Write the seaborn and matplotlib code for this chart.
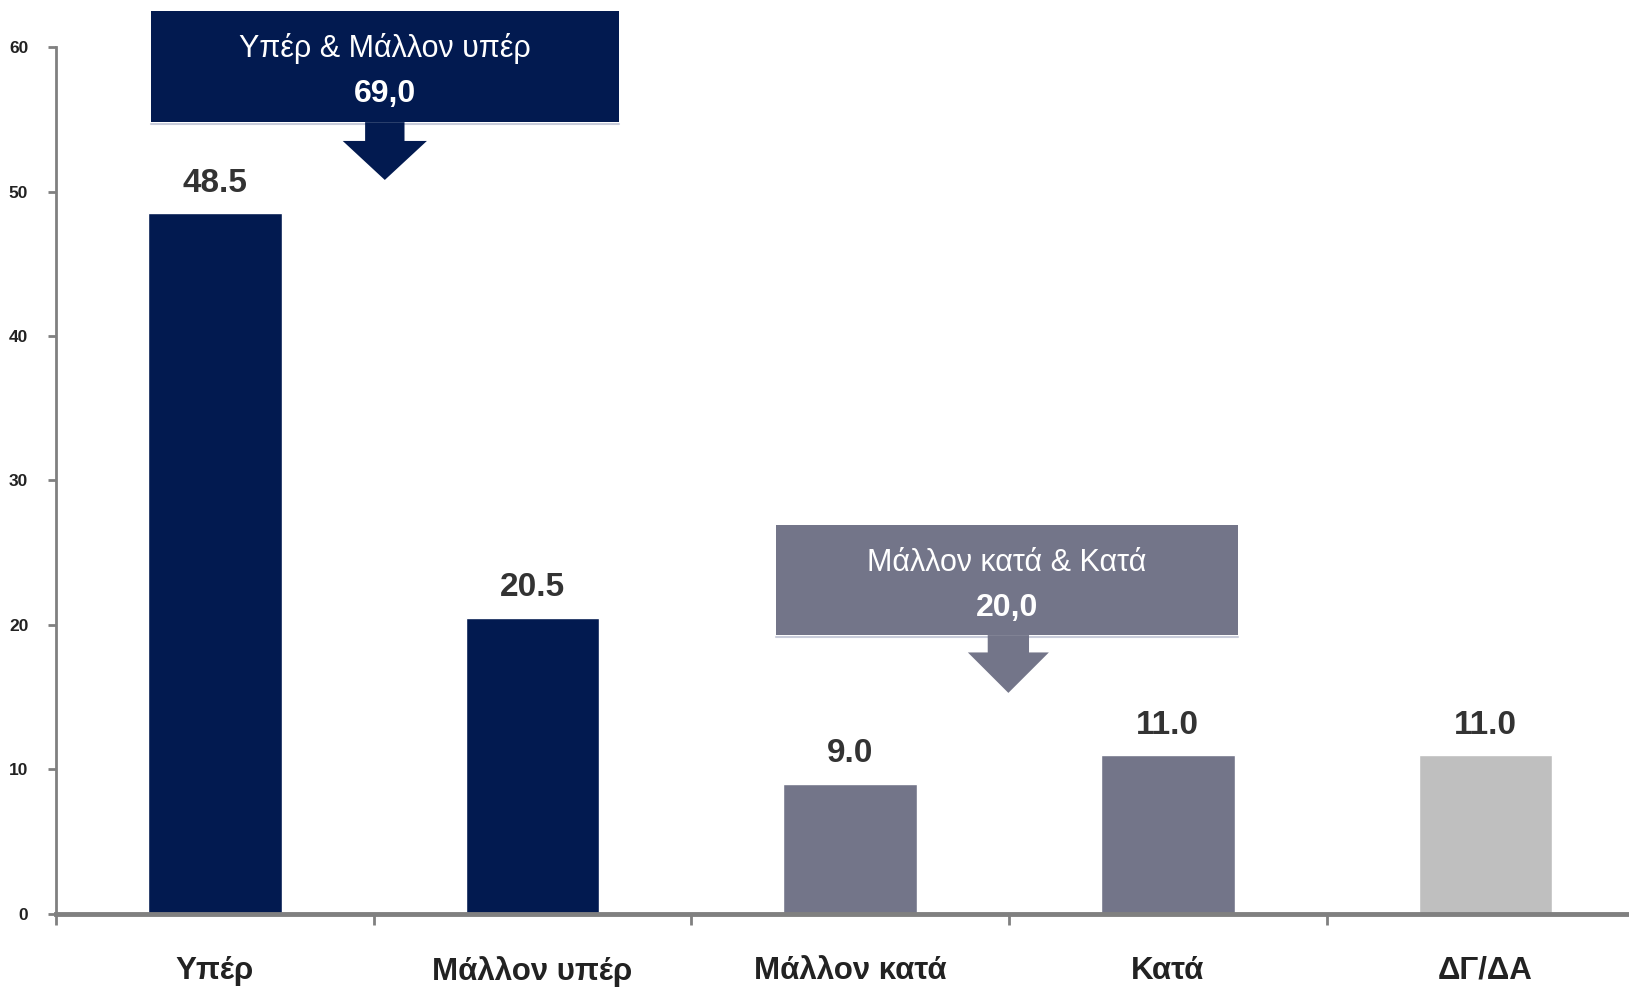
import matplotlib
matplotlib.use("Agg")
import matplotlib.pyplot as plt
import seaborn as sns
import pandas as pd
from matplotlib.patches import Rectangle, FancyArrow

categories = ["Υπέρ", "Μάλλον υπέρ", "Μάλλον κατά", "Κατά", "ΔΓ/ΔΑ"]
values = [48.5, 20.5, 9.0, 11.0, 11.0]
value_labels = ["48.5", "20.5", "9.0", "11.0", "11.0"]
colors = ["#021A50", "#021A50", "#737589", "#737589", "#BFBFBF"]
yticks = [0, 10, 20, 30, 40, 50, 60]

box1_title = "Υπέρ & Μάλλον υπέρ"
box1_value = "69,0"
box2_title = "Μάλλον κατά & Κατά"
box2_value = "20,0"

sns.set_theme(style="white")
FONT = ["Liberation Sans Narrow", "Liberation Sans", "DejaVu Sans"]
plt.rcParams["font.family"] = FONT

fig = plt.figure(figsize=(16.29, 9.9), dpi=100)
ax = fig.add_axes([0.0344, 0.0768, 0.975, 0.8757])

df = pd.DataFrame({"cat": categories, "val": values})
sns.barplot(data=df, x="cat", y="val", hue="cat", palette=colors, width=0.42,
            legend=False, ax=ax, saturation=1)

ax.set_xlim(-0.5, 4.5)
ax.set_ylim(0, 60)
ax.set_xlabel("")
ax.set_ylabel("")
ax.set_yticks(yticks)
ax.set_yticklabels([str(t) for t in yticks], fontsize=12.5, fontweight="bold", color="#222222")

ax.set_xticks(range(len(categories)))
ax.set_xticklabels(categories, fontsize=22.5, fontweight="bold", color="#222222")
ax.tick_params(axis="x", length=0, pad=30)
ax.tick_params(axis="y", length=6, width=2, color="#808080", pad=14, left=True)

# boundary ticks on x axis
for b in [-0.5, 0.5, 1.5, 2.5, 3.5]:
    ax.plot([b, b], [0, -0.75], color="#808080", lw=2, clip_on=False,
            transform=ax.transData, solid_capstyle="butt")

for s in ["top", "right"]:
    ax.spines[s].set_visible(False)
ax.spines["left"].set_color("#808080")
ax.spines["left"].set_linewidth(2)
ax.spines["bottom"].set_color("#808080")
ax.spines["bottom"].set_linewidth(3.5)

for i, (v, lab) in enumerate(zip(values, value_labels)):
    ax.text(i, v + 1.0, lab, ha="center", va="bottom", fontsize=24,
            fontweight="bold", color="#333333")

# annotation boxes
def callout(x0, x1, y0, y1, color, title, val, ax_x, head_y, tip_y, shaft_w, head_w):
    ax.add_patch(Rectangle((x0, y0), x1 - x0, y1 - y0, facecolor=color,
                           edgecolor="none", clip_on=False, zorder=3))
    ax.plot([x0, x1], [y0 - 0.1, y0 - 0.1], color="#C8CCDA", lw=1.5, clip_on=False, zorder=3)
    xm = (x0 + x1) / 2
    ax.text(xm, y0 + (y1 - y0) * 0.66, title, ha="center", va="center",
            fontsize=22, color="white", zorder=4)
    ax.text(xm, y0 + (y1 - y0) * 0.25, val, ha="center", va="center",
            fontsize=23, fontweight="bold", color="white", zorder=4)
    arr = FancyArrow(ax_x, y0, 0, tip_y - y0, width=shaft_w, head_width=head_w,
                     head_length=head_y - tip_y, length_includes_head=True,
                     facecolor=color, edgecolor="none", clip_on=False, zorder=3)
    ax.add_patch(arr)

callout(-0.2, 1.273, 54.8, 62.5, "#021A50", box1_title, box1_value,
        0.535, 53.5, 50.8, 0.124, 0.265)
callout(1.768, 3.22, 19.3, 26.9, "#737589", box2_title, box2_value,
        2.498, 18.1, 15.3, 0.13, 0.255)

fig.savefig("out.png", dpi=100, facecolor="white")
